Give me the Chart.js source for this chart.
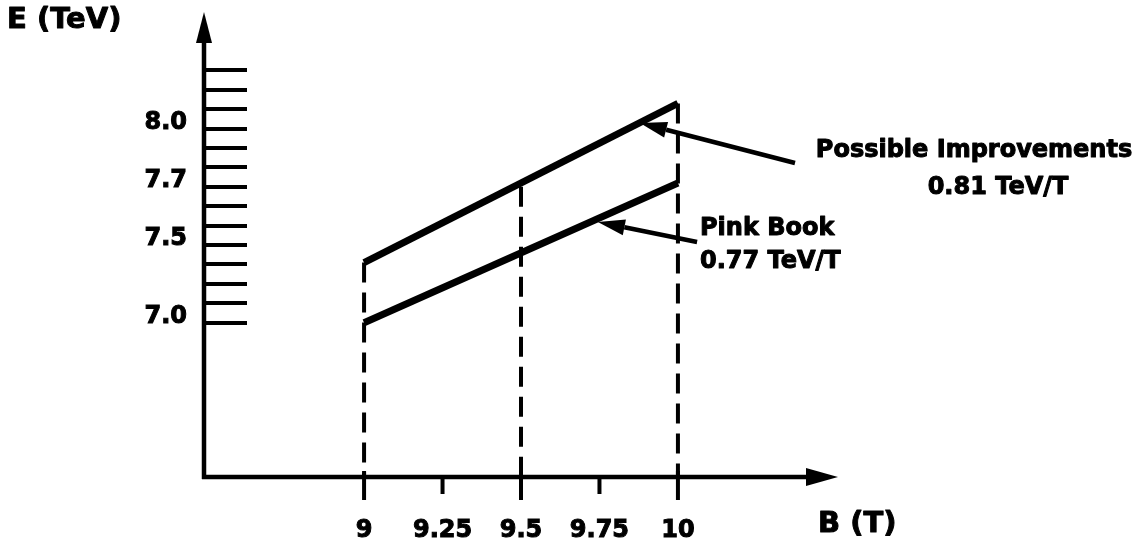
<!DOCTYPE html>
<html>
<head>
<meta charset="utf-8">
<script src="https://cdn.jsdelivr.net/npm/chart.js@4.4.1/dist/chart.umd.min.js"></script>
<style>
html,body{margin:0;padding:0;background:#fff;}
#wrap{width:1136px;height:545px;position:relative;}
</style>
</head>
<body>
<div id="wrap"><canvas id="c" width="1136" height="545"></canvas></div>
<script>
// ---- data ----
const fieldB = [9, 10];                       // B (T)
const pinkBook = [7.00, 7.72];                // E (TeV), Pink Book
const possibleImprovements = [7.31, 8.13];    // E (TeV), Possible Improvements
const dashX = [9, 9.5, 10];                   // dashed guide lines at B
const dashTop = [7.31, 7.70, 8.13];           // top of dashed guides (E)
const xTickValues = [9, 9.25, 9.5, 9.75, 10];
const xTickLabels = ['9', '9.25', '9.5', '9.75', '10'];
const yTickValues = [7.0, 7.1, 7.2, 7.3, 7.4, 7.5, 7.6, 7.7, 7.8, 7.9, 8.0, 8.1, 8.2, 8.3];
const yTickLabels = ['7.0', '', '', '', '7.5', '', '', '7.7', '', '', '8.0', '', '', ''];
const arrowFromB = [10.373, 10.061];
const arrowFromE = [7.823, 7.416];
const arrowToB = [9.879, 9.745];
const arrowToE = [8.029, 7.519];

const xMin = 8.49, xMax = 10.51, yMin = 6.205, yMax = 8.601;
const FONT = 'DejaVu Sans';

const datasets = [
  {
    label: 'Possible Improvements',
    data: fieldB.map((b, i) => ({x: b, y: possibleImprovements[i]})),
    borderColor: '#000', borderWidth: 7, pointRadius: 0, fill: false, tension: 0
  },
  {
    label: 'Pink Book',
    data: fieldB.map((b, i) => ({x: b, y: pinkBook[i]})),
    borderColor: '#000', borderWidth: 7, pointRadius: 0, fill: false, tension: 0
  }
];
dashX.forEach((b, i) => {
  datasets.push({
    label: 'guide ' + b,
    data: [{x: b, y: dashTop[i]}, {x: b, y: yMin}],
    borderColor: '#000', borderWidth: 4, borderDash: [20, 10],
    pointRadius: 0, fill: false, tension: 0
  });
});

function boldText(ctx, s, x, y) {
  ctx.fillText(s, x, y);
  ctx.strokeText(s, x, y);
}

const decorPlugin = {
  id: 'decor',
  afterDatasetsDraw(chart) {
    const {ctx, chartArea: a, scales: {x, y}} = chart;
    ctx.save();
    ctx.strokeStyle = '#000';
    ctx.fillStyle = '#000';
    ctx.lineCap = 'butt';
    // y axis with arrow
    ctx.lineWidth = 4.5;
    ctx.beginPath(); ctx.moveTo(a.left, a.bottom + 2); ctx.lineTo(a.left, a.top + 28); ctx.stroke();
    ctx.beginPath(); ctx.moveTo(a.left, a.top); ctx.lineTo(a.left - 8, a.top + 31); ctx.lineTo(a.left + 8, a.top + 31); ctx.closePath(); ctx.fill();
    // x axis with arrow
    ctx.beginPath(); ctx.moveTo(a.left - 2, a.bottom); ctx.lineTo(a.right - 28, a.bottom); ctx.stroke();
    ctx.beginPath(); ctx.moveTo(a.right, a.bottom); ctx.lineTo(a.right - 32, a.bottom - 9); ctx.lineTo(a.right - 32, a.bottom + 9); ctx.closePath(); ctx.fill();
    // y tick marks (to the right of the axis)
    ctx.lineWidth = 4;
    yTickValues.forEach(v => {
      const py = Math.round(y.getPixelForValue(v));
      ctx.beginPath(); ctx.moveTo(a.left, py); ctx.lineTo(a.left + 43, py); ctx.stroke();
    });
    // x tick marks (below the axis)
    ctx.lineWidth = 4;
    xTickValues.forEach(v => {
      const px = x.getPixelForValue(v);
      const major = dashX.includes(v);
      ctx.beginPath();
      ctx.moveTo(px, major ? a.bottom - 6 : a.bottom);
      ctx.lineTo(px, a.bottom + (major ? 23 : 17));
      ctx.stroke();
    });
    // annotation arrows
    ctx.lineWidth = 4.5;
    arrowFromB.forEach((b, i) => {
      const x0 = x.getPixelForValue(b), y0 = y.getPixelForValue(arrowFromE[i]);
      const x1 = x.getPixelForValue(arrowToB[i]), y1 = y.getPixelForValue(arrowToE[i]);
      const ang = Math.atan2(y1 - y0, x1 - x0);
      const L = 27, W = 8;
      const bx = x1 - L * Math.cos(ang), by = y1 - L * Math.sin(ang);
      ctx.beginPath(); ctx.moveTo(x0, y0); ctx.lineTo(bx, by); ctx.stroke();
      ctx.beginPath();
      ctx.moveTo(x1, y1);
      ctx.lineTo(bx + W * Math.sin(ang), by - W * Math.cos(ang));
      ctx.lineTo(bx - W * Math.sin(ang), by + W * Math.cos(ang));
      ctx.closePath(); ctx.fill();
    });
    ctx.restore();
  },
  afterDraw(chart) {
    const ctx = chart.ctx;
    ctx.save();
    ctx.fillStyle = '#000';
    ctx.strokeStyle = '#000';
    ctx.lineWidth = 1;
    ctx.lineJoin = 'round';
    ctx.textBaseline = 'middle';
    ctx.font = 'bold 29px "' + FONT + '"';
    ctx.textAlign = 'left';
    boldText(ctx, 'E (TeV)', 7, 20);
    boldText(ctx, 'B (T)', 818, 524);
    ctx.font = 'bold 24px "' + FONT + '"';
    ctx.textAlign = 'center';
    boldText(ctx, 'Possible Improvements', 974, 151);
    boldText(ctx, '0.81 TeV/T', 998, 188);
    ctx.textAlign = 'left';
    boldText(ctx, 'Pink Book', 700, 229);
    boldText(ctx, '0.77 TeV/T', 700, 262);
    ctx.restore();
  }
};

new Chart(document.getElementById('c'), {
  type: 'line',
  data: {datasets},
  options: {
    responsive: false,
    animation: false,
    devicePixelRatio: 1,
    layout: {padding: {left: 0, right: 298, top: 12, bottom: 0}},
    plugins: {legend: {display: false}, tooltip: {enabled: false}},
    scales: {
      x: {
        type: 'linear', min: xMin, max: xMax,
        grid: {display: false, drawTicks: false},
        border: {display: false},
        afterFit(s) { s.height = 68; s.paddingLeft = 0; s.paddingRight = 0; },
        afterBuildTicks(s) { s.ticks = xTickValues.map(v => ({value: v})); },
        ticks: {
          autoSkip: false, maxRotation: 0, padding: 39, color: '#000',
          textStrokeColor: '#000', textStrokeWidth: 1,
          font: {family: FONT, size: 24, weight: 'bold'},
          callback: (v, i) => xTickLabels[i]
        }
      },
      y: {
        type: 'linear', min: yMin, max: yMax,
        grid: {display: false, drawTicks: false},
        border: {display: false},
        afterFit(s) { s.width = 204; s.paddingTop = 0; s.paddingBottom = 0; },
        afterBuildTicks(s) { s.ticks = yTickValues.map(v => ({value: v})); },
        ticks: {
          autoSkip: false, padding: 17, labelOffset: -6, color: '#000',
          textStrokeColor: '#000', textStrokeWidth: 1,
          font: {family: FONT, size: 24, weight: 'bold'},
          callback: (v, i) => yTickLabels[i]
        }
      }
    }
  },
  plugins: [decorPlugin]
});
</script>
</body>
</html>
